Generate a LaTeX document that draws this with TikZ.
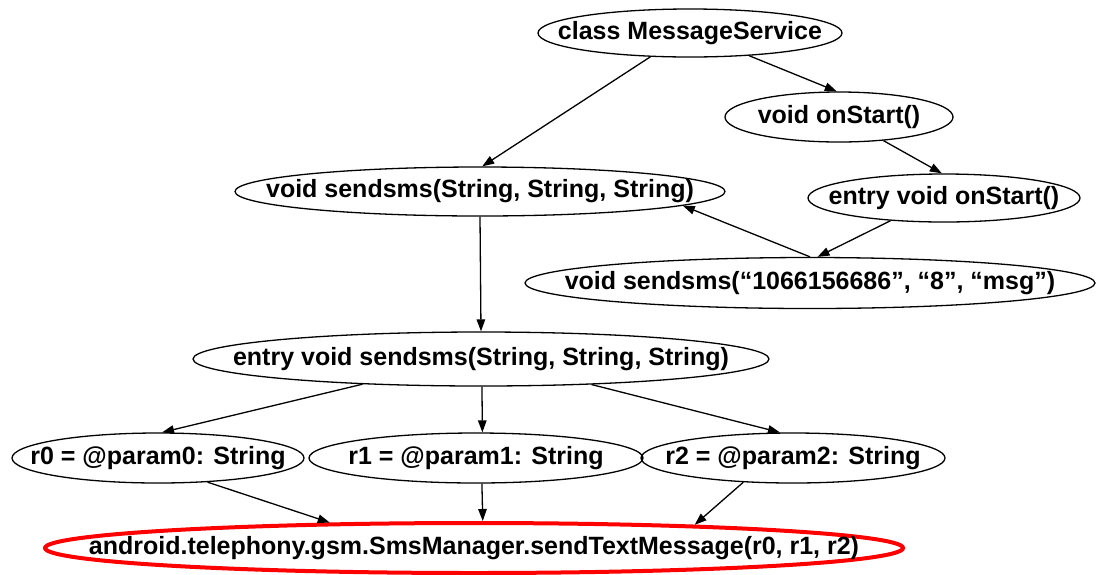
\documentclass[tikz,border=0pt]{standalone}
\usepackage{fontspec}
\setmainfont{Liberation Sans}
\usepackage{tikz}
\usetikzlibrary{shapes.geometric, arrows.meta, positioning, calc}

% text that does not widen the ellipse
\newcommand{\mtxt}[1]{\makebox[0pt]{#1}}

\begin{document}
\begin{tikzpicture}[
    x=1pt, y=-1pt,
    meth/.style={ellipse, draw=black, line width=1.3pt, inner sep=0pt, font=\fontsize{25}{27}\selectfont\bfseries},
    sink/.style={meth, draw=red, line width=4pt},
    arrow/.style={-{Triangle[length=12pt, width=8.5pt]}, line width=1.3pt}
]
\useasboundingbox (0,0) rectangle (1097,574);

% Klasse und Methoden
\node[meth, minimum width=304, minimum height=48] (cls) at (690,33) {\mtxt{class MessageService}};
\node[meth, minimum width=228, minimum height=50] (onstart) at (839,117) {\mtxt{void onStart()}};
\node[meth, minimum width=490, minimum height=49] (send) at (480,191.5) {\mtxt{void sendsms(String, String, String)}};
\node[meth, minimum width=272, minimum height=48] (entrystart) at (944,198) {\mtxt{entry void onStart()}};
\node[meth, minimum width=570, minimum height=51] (sendcall) at (810,283) {\mtxt{void sendsms(“1066156686”, “8”, “msg”)}};
\node[meth, minimum width=576, minimum height=54] (entrysend) at (481,359) {\mtxt{entry void sendsms(String, String, String)}};

% Parameter
\node[meth, minimum width=292, minimum height=50] (pzero) at (158,458) {\mtxt{r0 = @param0: String}};
\node[meth, minimum width=334, minimum height=50] (pone) at (476,458) {\mtxt{r1 = @param1: String}};
\node[meth, minimum width=304, minimum height=50] (ptwo) at (793,458) {\mtxt{r2 = @param2: String}};

% Senke
\node[sink, minimum width=858, minimum height=50] (sms) at (474,548) {\mtxt{android.telephony.gsm.SmsManager.sendTextMessage(r0, r1, r2)}};

% Kanten
\draw[arrow] (cls.211) -- (send.85);
\draw[arrow] (cls.339) -- (onstart.95);
\draw[arrow] (onstart.332) -- (entrystart.95);
\draw[arrow] (entrystart.203.5) -- (sendcall.74.6);
\draw[arrow] (sendcall.90) -- (send.356.7);
\draw[arrow] (send.south) -- (entrysend.north);
\draw[arrow] (entrysend.192.8) -- (pzero.81);
\draw[arrow] (entrysend.-88) -- (pone.76.5);
\draw[arrow] (entrysend.347.4) -- (ptwo.117.5);
\draw[arrow] (pzero.334.4) -- (sms.170.7);
\draw[arrow] (pone.283.5) -- (sms.72.3);
\draw[arrow] (ptwo.206.3) -- (sms.6.4);

\end{tikzpicture}
\end{document}
